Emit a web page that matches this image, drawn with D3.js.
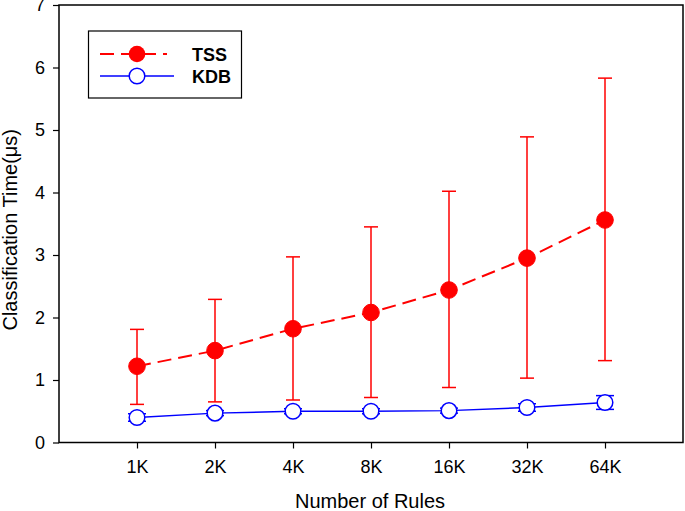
<!DOCTYPE html>
<html><head><meta charset="utf-8">
<script src="https://cdn.jsdelivr.net/npm/d3@7"></script>
<style>body{margin:0;background:#fff}svg{display:block}text{font-family:"Liberation Sans",Arial,sans-serif}</style>
</head><body>
<svg id="c" width="685" height="511"></svg>
<script>
const categories = ["1K","2K","4K","8K","16K","32K","64K"];
const tssMean = [1.22,1.47,1.82,2.08,2.44,2.95,3.56];
const tssLow  = [0.61,0.65,0.68,0.72,0.88,1.03,1.31];
const tssHigh = [1.81,2.29,2.97,3.45,4.02,4.89,5.83];
const kdbMean = [0.40,0.47,0.50,0.50,0.51,0.56,0.64];
const kdbLow  = [0.34,0.43,0.46,0.46,0.47,0.50,0.53];
const kdbHigh = [0.46,0.51,0.54,0.54,0.55,0.62,0.75];
const yTicks = [0,1,2,3,4,5,6,7];

const svg = d3.select("#c");
const L=59, R=683, T=5, B=442.5;
const x = d3.scaleLinear().domain([0,8]).range([L,R]);
const y = d3.scaleLinear().domain([0,7]).range([B,T]);
const xi = i => x(i+1);

// frame
svg.append("rect").attr("x",L).attr("y",T).attr("width",R-L).attr("height",B-T)
  .attr("fill","none").attr("stroke","#000").attr("stroke-width",1.5);

const yAxis = svg.append("g").attr("transform",`translate(${L},0)`)
  .call(d3.axisLeft(y).tickValues(yTicks).tickFormat(d3.format("d")).tickSize(6).tickPadding(8));
const xAxis = svg.append("g").attr("transform",`translate(0,${B})`)
  .call(d3.axisBottom(x).tickValues(d3.range(1,8)).tickFormat(d=>categories[d-1]).tickSize(6).tickPadding(12));
[yAxis,xAxis].forEach(g=>{
  g.select(".domain").remove();
  g.selectAll("line").attr("stroke","#000").attr("stroke-width",1.2);
  g.selectAll("text").attr("font-size",18).attr("fill","#000").style("font-family","'Liberation Sans',Arial,sans-serif");
});

function errBars(lo, hi, color, capW){
  const g = svg.append("g").attr("stroke",color).attr("stroke-width",1.5);
  categories.forEach((c,i)=>{
    g.append("line").attr("x1",xi(i)).attr("x2",xi(i)).attr("y1",y(lo[i])).attr("y2",y(hi[i]));
    g.append("line").attr("x1",xi(i)-capW/2).attr("x2",xi(i)+capW/2).attr("y1",y(lo[i])).attr("y2",y(lo[i]));
    g.append("line").attr("x1",xi(i)-capW/2).attr("x2",xi(i)+capW/2).attr("y1",y(hi[i])).attr("y2",y(hi[i]));
  });
}
const line = d3.line().x((d,i)=>xi(i)).y(d=>y(d));

// TSS
errBars(tssLow, tssHigh, "#ff0000", 14);
svg.append("path").datum(tssMean).attr("d",line).attr("fill","none")
  .attr("stroke","#ff0000").attr("stroke-width",2).attr("stroke-dasharray","14,7");
svg.selectAll(".tss").data(tssMean).join("circle").attr("cx",(d,i)=>xi(i)).attr("cy",d=>y(d))
  .attr("r",8.3).attr("fill","#ff0000").attr("stroke","#ff0000").attr("stroke-width",1);

// KDB
errBars(kdbLow, kdbHigh, "#0000ff", 18);
svg.append("path").datum(kdbMean).attr("d",line).attr("fill","none")
  .attr("stroke","#0000ff").attr("stroke-width",1.5);
svg.selectAll(".kdb").data(kdbMean).join("circle").attr("cx",(d,i)=>xi(i)).attr("cy",d=>y(d))
  .attr("r",7.8).attr("fill","#fff").attr("stroke","#0000ff").attr("stroke-width",1.5);

// legend
const lg = svg.append("g");
lg.append("rect").attr("x",88.5).attr("y",31).attr("width",153).attr("height",67)
  .attr("fill","#fff").attr("stroke","#000").attr("stroke-width",1.2);
lg.append("line").attr("x1",100).attr("x2",167).attr("y1",54).attr("y2",54)
  .attr("stroke","#ff0000").attr("stroke-width",2).attr("stroke-dasharray","14,7");
lg.append("circle").attr("cx",137).attr("cy",54).attr("r",8.3).attr("fill","#ff0000");
lg.append("line").attr("x1",100).attr("x2",174).attr("y1",76).attr("y2",76)
  .attr("stroke","#0000ff").attr("stroke-width",1.5);
lg.append("circle").attr("cx",137).attr("cy",76).attr("r",7.8).attr("fill","#fff").attr("stroke","#0000ff").attr("stroke-width",1.5);
lg.append("text").attr("x",192).attr("y",61).attr("font-size",18).attr("font-weight","bold").text("TSS");
lg.append("text").attr("x",192).attr("y",83).attr("font-size",18).attr("font-weight","bold").text("KDB");

// axis titles
svg.append("text").attr("x",370).attr("y",508).attr("text-anchor","middle").attr("font-size",20).text("Number of Rules");
svg.append("text").attr("transform",`translate(17,${(T+B)/2+6}) rotate(-90)`).attr("text-anchor","middle")
  .attr("font-size",20).text("Classification Time(μs)");
</script>
</body></html>
